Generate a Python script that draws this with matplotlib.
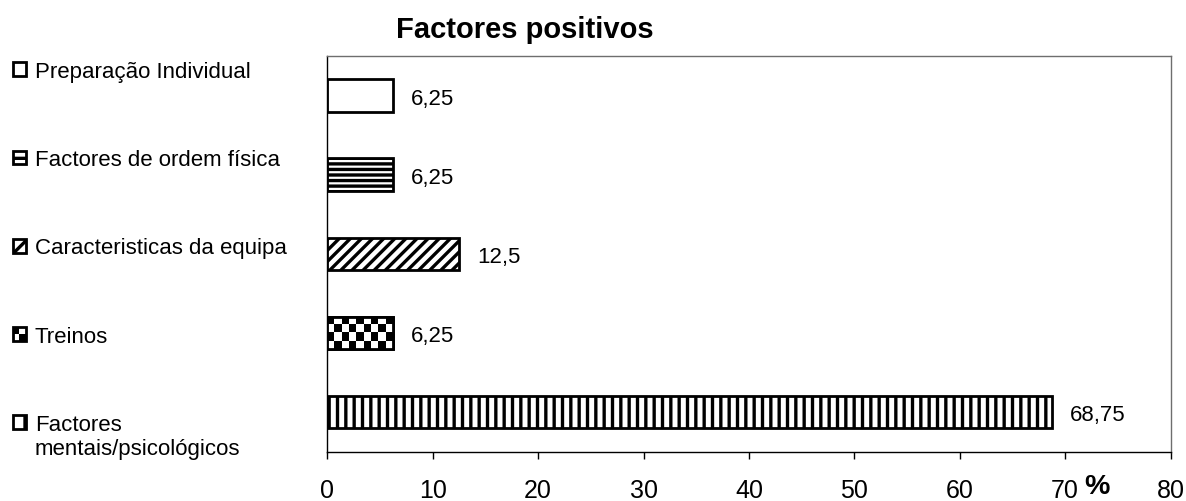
import numpy as np
import matplotlib
matplotlib.use("Agg")
import matplotlib.pyplot as plt
from matplotlib.patches import Rectangle
from matplotlib.legend_handler import HandlerBase

plt.rcParams['font.family'] = ['Liberation Sans', 'DejaVu Sans']
plt.rcParams['hatch.linewidth'] = 2.4
plt.rcParams['hatch.color'] = 'black'

# dados (de cima para baixo)
categorias = ['Preparação Individual', 'Factores de ordem física',
              'Caracteristicas da equipa', 'Treinos', 'Factores']
segunda_linha = 'mentais/psicológicos'
valores = [6.25, 6.25, 12.5, 6.25, 68.75]
rotulos = ['6,25', '6,25', '12,5', '6,25', '68,75']
padroes = ['', '---', '///', 'checker', '||']
padroes_leg = ['', '-', '/', 'checker', '|']
xticks = [0, 10, 20, 30, 40, 50, 60, 70, 80]

fig = plt.figure(figsize=(11.86, 5.02), dpi=100)
ax = fig.add_axes([0.276, 0.098, 0.711, 0.789])

n = len(categorias)
ypos = np.arange(n)[::-1]   # primeira categoria em cima
altura = 0.41

for y, v, p in zip(ypos, valores, padroes):
    h = '' if p == 'checker' else p
    b = ax.barh(y, v, height=altura, color='white', edgecolor='black',
                linewidth=2, hatch=h, zorder=2)
    if p == 'checker':
        # xadrez (nao existe hatch destes no matplotlib)
        ii, jj = np.indices((4, 9))
        xadrez = ((ii + jj) % 2 == 0).astype(float)
        im = ax.imshow(xadrez, cmap='gray_r', vmin=0, vmax=1, aspect='auto',
                       extent=(0, v, y - altura / 2, y + altura / 2),
                       interpolation='nearest', zorder=2.5)
        im.set_clip_path(b[0])
        ax.barh(y, v, height=altura, fill=False, edgecolor='black',
                linewidth=2, zorder=3)

for y, v, r in zip(ypos, valores, rotulos):
    ax.annotate(r, xy=(v, y), xytext=(13, -2), textcoords='offset points',
                ha='left', va='center', fontsize=16)

ax.set_xlim(0, 80)
ax.set_ylim(-0.5, n - 0.5)
ax.set_xticks(xticks)
ax.set_yticks([])
ax.tick_params(axis='x', direction='out', length=5, width=1, pad=14,
               labelsize=18, colors='black')
for s in ['top', 'right']:
    ax.spines[s].set_color('#6e6e6e')
    ax.spines[s].set_linewidth(1)
for s in ['left', 'bottom']:
    ax.spines[s].set_color('black')
    ax.spines[s].set_linewidth(1)

ax.set_xlabel('%', fontsize=20.5, fontweight='bold')
ax.xaxis.set_label_coords(73.0 / 80, -0.087)
ax.xaxis.label.set_verticalalignment('center')

fig.text(525 / 1186, 0.9237, 'Factores positivos', ha='center',
         va='baseline', fontsize=21, fontweight='bold')


class HandlerXadrez(HandlerBase):
    def create_artists(self, legend, orig_handle, xdescent, ydescent,
                       width, height, fontsize, trans):
        x0, y0 = -xdescent, -ydescent
        arts = [Rectangle((x0, y0), width, height, facecolor='white',
                          edgecolor='black', lw=2, transform=trans),
                Rectangle((x0, y0 + height / 2), width / 2, height / 2,
                          facecolor='black', edgecolor='none', transform=trans),
                Rectangle((x0 + width / 2, y0), width / 2, height / 2,
                          facecolor='black', edgecolor='none', transform=trans)]
        return arts


leg_handles = []
for p, cat in zip(padroes_leg, categorias):
    if p == 'checker':
        leg_handles.append(Rectangle((0, 0), 1, 1, label=cat))
    else:
        leg_handles.append(Rectangle((0, 0), 1, 1, facecolor='white',
                                     edgecolor='black', lw=2, hatch=p,
                                     label=cat))

hm = {leg_handles[3]: HandlerXadrez()}
leg = fig.legend(handles=leg_handles, loc='upper left',
                 bbox_to_anchor=(0.011, 0.876), frameon=False, fontsize=16,
                 handlelength=0.58, handleheight=0.58, handletextpad=0.4,
                 labelspacing=3.02, borderpad=0, borderaxespad=0,
                 handler_map=hm)

# segunda linha da ultima entrada da legenda (desenhada depois da legenda)
ultimo = leg.get_texts()[-1]
extra = plt.Annotation(segunda_linha, xy=(0, 0), xycoords=ultimo,
                       xytext=(0, -2.6), textcoords='offset points',
                       ha='left', va='top', fontsize=16)
extra.set_zorder(leg.get_zorder() + 1)
fig.add_artist(extra)

fig.savefig('out.png', dpi=100)
